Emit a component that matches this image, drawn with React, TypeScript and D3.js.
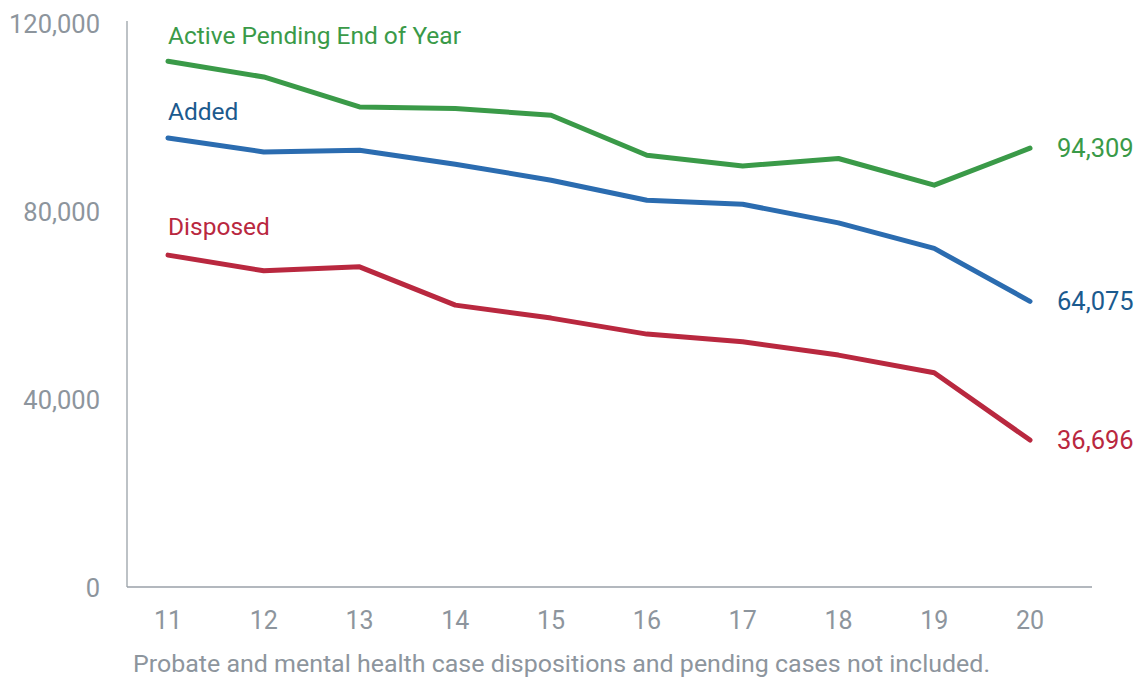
import React from "react";
import * as d3 from "d3";

const years = ["11", "12", "13", "14", "15", "16", "17", "18", "19", "20"];
const activePending = [111460, 108360, 102450, 102130, 100810, 92920, 90810, 92270, 87000, 94309];
const added = [96330, 93570, 93910, 91140, 87990, 84040, 83250, 79570, 74520, 64075];
const disposed = [73200, 70100, 70890, 63330, 60770, 57610, 56090, 53470, 49980, 36696];
const yTicks = [0, 40000, 80000, 120000];
const footnote = "Probate and mental health case dispositions and pending cases not included.";

const series = [
  { name: "Active Pending End of Year", values: activePending, color: "#3a9a48", text: "#3a9a48", labelY: 35 },
  { name: "Added", values: added, color: "#2b6cb0", text: "#1b5a8e", labelY: 111 },
  { name: "Disposed", values: disposed, color: "#b9283f", text: "#b9283f", labelY: 226 },
];

const FONT = "'Roboto', sans-serif";

export default function App() {
  const W = 1141, H = 681;
  const x = d3.scalePoint<string>().domain(years).range([168, 1030]);
  const yAxis = d3.scaleLinear().domain([0, 120000]).range([588, 24]);
  const yData = d3.scaleLinear().domain([0, 120000]).range([626, 18]);
  const line = d3.line<number>().x((_, i) => x(years[i]) as number).y((d) => yData(d));
  const fmt = d3.format(",");
  return (
    <svg width={W} height={H} style={{ position: "absolute", left: 0, top: 0, background: "#fff" }}>
      <line x1={127} x2={127} y1={21} y2={587} stroke="#9aa1a8" strokeWidth={1.3} />
      <line x1={127} x2={1092} y1={587} y2={587} stroke="#9aa1a8" strokeWidth={1.3} />
      {yTicks.map((t) => (
        <text key={t} x={100} y={yAxis(t)} dy="0.35em" textAnchor="end" fill="#8d959d" fontSize={25.5} fontFamily={FONT}>
          {fmt(t)}
        </text>
      ))}
      {years.map((yr) => (
        <text key={yr} x={x(yr)} y={620} dy="0.35em" textAnchor="middle" fill="#8d959d" fontSize={25} fontFamily={FONT}>
          {yr}
        </text>
      ))}
      {series.map((s) => (
        <g key={s.name}>
          <path d={line(s.values) || ""} fill="none" stroke={s.color} strokeWidth={5} strokeLinejoin="round" strokeLinecap="round" />
          <text x={168} y={s.labelY} dy="0.35em" fill={s.text} fontSize={24.5} fontFamily={FONT}>
            {s.name}
          </text>
          <text x={1057} y={yData(s.values[s.values.length - 1])} dy="0.35em" fill={s.text} fontSize={25.5} fontFamily={FONT}>
            {fmt(s.values[s.values.length - 1])}
          </text>
        </g>
      ))}
      <text x={133} y={664} dy="0.35em" fill="#8d959d" fontSize={24} fontFamily={FONT} textLength={857} lengthAdjust="spacingAndGlyphs">
        {footnote}
      </text>
    </svg>
  );
}
